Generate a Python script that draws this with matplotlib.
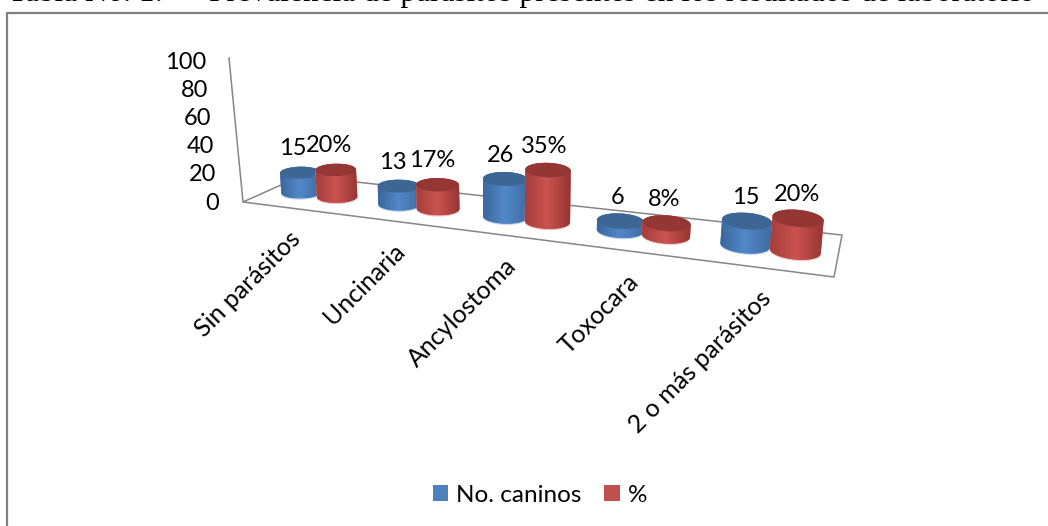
import numpy as np
import matplotlib
matplotlib.use("Agg")
import matplotlib.pyplot as plt
from matplotlib.patches import Patch, Polygon

categories = ["Sin parásitos", "Uncinaria", "Ancylostoma", "Toxocara", "2 o más parásitos"]
no_caninos = [15, 13, 26, 6, 15]
porcentaje = [20, 17, 35, 8, 20]
value_ticks = [0, 20, 40, 60, 80, 100]

plt.rcParams["font.family"] = ["Lato", "DejaVu Sans"]

W, H = 1048, 526
fig = plt.figure(figsize=(W / 100, H / 100), dpi=100)
ax = fig.add_axes([0, 0, 1, 1])

# floor corners of the 3d box, in figure pixels
front_l = np.array([243.0, 202.0])
front_r = np.array([834.0, 277.0])
back_r = np.array([842.0, 235.0])
back_l = np.array([301.0, 176.0])
wall_top = np.array([229.0, 58.0])
tick_top = np.array([230.0, 61.5])
mid_l = np.array([272.0, 189.0])
mid_r = np.array([838.0, 256.0])
persp = 0.227
line_col = "#868686"


def warp(u):
    # perspective along the category axis
    return u / (1 + persp * (1 - u))


def side_colors(c_edge_l, c_mid, c_edge_r):
    c = [matplotlib.colors.to_rgb(x) for x in (c_edge_l, c_mid, c_edge_r)]
    s = np.linspace(0, 1, 64)
    pos = [0, 0.48, 1]
    return np.array([[np.interp(s, pos, [k[i] for k in c]) for i in range(3)]]).transpose(0, 2, 1)


def ellipse(cx, cy, a, b, th, tilt):
    return cx + a * np.cos(th), cy + b * np.sin(th) + tilt * a * np.cos(th)


def cylinder(u, value, edge_l, mid, edge_r, top_col, halo, z):
    t = warp(u)
    base = mid_l + (mid_r - mid_l) * t
    h = value * (1.3 + 0.35 * t)
    lean = -0.07 + 0.17 * t
    a = 19.5 + 6.5 * t
    b = 5.8 + 3 * t
    tilt = -0.03 + 0.13 * t
    top_x = base[0] + h * lean
    top_y = base[1] - h

    # near half of the base, then far half of the top
    th = np.linspace(0, np.pi, 60)
    bx, by = ellipse(base[0], base[1], a, b, th, tilt)
    tx, ty = ellipse(top_x, top_y, a, b, th + np.pi, tilt)
    outline = np.column_stack([np.r_[bx, tx], np.r_[by, ty]])

    ax.add_patch(Polygon(outline + [0, 1.2], closed=True, fc=halo, ec="none", zorder=z))
    body = Polygon(outline, closed=True, fc=mid, ec="none", zorder=z + 0.1)
    ax.add_patch(body)
    im = ax.imshow(side_colors(edge_l, mid, edge_r), aspect="auto", interpolation="bilinear",
                   extent=[outline[:, 0].min(), outline[:, 0].max(), outline[:, 1].max(), outline[:, 1].min()],
                   zorder=z + 0.2)
    im.set_clip_path(body)

    th = np.linspace(0, 2 * np.pi, 100)
    ex, ey = ellipse(top_x, top_y, a, b, th, tilt)
    ax.add_patch(Polygon(np.column_stack([ex, ey]), closed=True, fc=top_col, ec="none", zorder=z + 0.3))
    return top_x, top_y, t


# wall edge and floor outline
ax.plot([wall_top[0], front_l[0]], [wall_top[1], front_l[1]], color=line_col, lw=1.1, zorder=1)
floor = np.array([back_l, front_l, front_r, back_r, back_l])
ax.plot(floor[:, 0], floor[:, 1], color=line_col, lw=1.1, zorder=1)

for v in value_ticks:
    p = front_l + (tick_top - front_l) * v / 100
    ax.text(p[0] - 24, p[1] + 1, str(v), ha="right", va="center", fontsize=17, color="black")

n = len(categories)
offset = 0.0376
for i in range(n):
    u = (i + 0.5) / n
    tx, ty, t = cylinder(u - offset, no_caninos[i], "#3a679c", "#5288c8", "#3f6ca3", "#3e6694", "#bcd2ec", 2 + 2 * i)
    ax.text(tx - 8 + 8 * t, ty - 24, str(no_caninos[i]), ha="center", va="center", fontsize=17, color="black", zorder=30)
    tx, ty, t = cylinder(u + offset, porcentaje[i], "#a53e3b", "#cb5350", "#963532", "#933634", "#ecc4c3", 3 + 2 * i)
    ax.text(tx - 8 + 8 * t, ty - 24, f"{porcentaje[i]}%", ha="center", va="center", fontsize=17, color="black", zorder=30)

    # category labels hang off the front edge of the floor
    p = front_l + (front_r - front_l) * warp(u)
    ax.text(p[0] + 4.5, p[1] + 26.5, categories[i], rotation=45, rotation_mode="anchor",
            ha="right", va="center", fontsize=18, color="black")

# chart border, only the top and left edges fall inside the crop
ax.plot([7, 7, W], [H, 13, 13], color="#808080", lw=1.6, zorder=1)

# caption line above the chart, justified across the page width
ax.text(8, 1.2, "Tabla No. 1:", family="Liberation Serif", fontsize=22.5, ha="left", va="baseline", color="black")
ax.text(1035, 1.2, "Prevalencia de parásitos presentes en los resultados de laboratorio",
        family="Liberation Serif", fontsize=22.5, ha="right", va="baseline", color="black")

handles = [Patch(fc="#4f81bd", ec="none", label="No. caninos"), Patch(fc="#c0504d", ec="none", label="%")]
ax.legend(handles=handles, loc="center", bbox_to_anchor=(540, 495), bbox_transform=ax.transData,
          ncol=2, frameon=False, fontsize=17.5, handlelength=0.62, handleheight=0.62,
          handletextpad=0.34, columnspacing=0.95, borderpad=0)

ax.set_xlim(0, W)
ax.set_ylim(H, 0)
ax.axis("off")
fig.savefig("out.png", dpi=100, facecolor="white")
